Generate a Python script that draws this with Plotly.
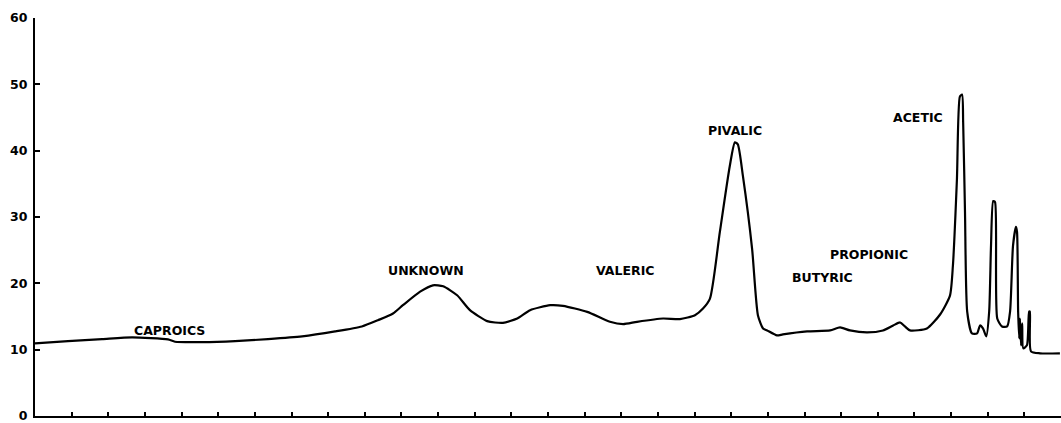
import plotly.graph_objects as go

# Retention position (chart-speed divisions) and detector response of the scan
retention = [
    0.00, 0.90, 1.83, 2.65, 3.63, 3.82, 4.56, 5.46, 6.36, 7.29, 8.19, 8.92,
    9.36, 9.77, 10.04, 10.51, 10.86, 11.14, 11.52, 11.87, 12.34, 12.77, 13.16,
    13.51, 14.06, 14.41, 15.07, 15.69, 16.05, 16.43, 17.14, 17.60, 18.01,
    18.23, 18.42, 18.69, 18.96, 19.10, 19.18, 19.32, 19.57, 19.73, 19.87,
    19.98, 20.25, 20.41, 21.07, 21.70, 21.97, 22.24, 22.71, 23.14, 23.42,
    23.61, 23.74, 23.88, 24.34, 24.70, 24.97, 25.05, 25.16, 25.24, 25.30,
    25.33, 25.38, 25.44, 25.57, 25.71, 25.79, 25.87, 25.96, 26.04, 26.09,
    26.15, 26.20, 26.26, 26.39, 26.53, 26.61, 26.69, 26.77, 26.80, 26.83,
    26.86, 26.88, 26.91, 26.94, 26.97, 27.07, 27.13, 27.15, 27.18, 27.43,
    27.97,
]
response = [
    10.95, 11.29, 11.59, 11.85, 11.55, 11.20, 11.14, 11.29, 11.59, 12.00,
    12.75, 13.50, 14.44, 15.45, 16.70, 18.75, 19.70, 19.55, 18.20, 15.95,
    14.30, 14.05, 14.70, 15.95, 16.70, 16.60, 15.70, 14.20, 13.85, 14.20,
    14.70, 14.60, 15.20, 16.20, 17.70, 27.75, 37.65, 41.25, 40.95, 36.15,
    25.20, 15.15, 13.20, 12.90, 12.15, 12.30, 12.75, 12.90, 13.35, 12.90,
    12.60, 12.90, 13.65, 14.10, 13.50, 12.90, 13.20, 15.30, 18.15, 22.65,
    35.70, 48.15, 48.45, 44.25, 30.75, 15.75, 12.45, 12.45, 13.65, 13.20,
    12.00, 15.75, 25.65, 32.40, 32.25, 14.70, 13.50, 13.50, 15.75, 25.65,
    28.50, 27.75, 15.75, 11.70, 14.70, 10.65, 13.95, 10.20, 10.65, 15.75,
    15.75, 9.75, 9.45, 9.45,
]

# Peak names and where they are written
peak_names = ["CAPROICS", "UNKNOWN", "VALERIC", "PIVALIC",
              "BUTYRIC", "PROPIONIC", "ACETIC"]
peak_label_x = [3.67, 10.67, 16.10, 19.10, 21.49, 22.75, 24.09]
peak_label_y = [12.83, 21.9, 21.9, 42.98, 20.85, 24.38, 45.0]

y_ticks = [0, 10, 20, 30, 40, 50, 60]
x_ticks = list(range(1, 28))

fig = go.Figure()
fig.add_trace(go.Scatter(
    x=retention, y=response, mode="lines",
    line=dict(color="black", width=2.2, shape="spline", smoothing=0.6),
    hoverinfo="skip", showlegend=False,
))

label_font = dict(family="DejaVu Sans", size=12.5, color="black", weight="bold")
for name, lx, ly in zip(peak_names, peak_label_x, peak_label_y):
    fig.add_annotation(x=lx, y=ly, text=name, showarrow=False,
                       xanchor="center", yanchor="middle", font=label_font)

fig.update_layout(
    width=1061, height=423,
    margin=dict(l=35, r=0, t=18, b=5),
    paper_bgcolor="white", plot_bgcolor="white",
    showlegend=False,
    xaxis=dict(
        range=[0, 28], showgrid=False, zeroline=False,
        showline=True, linecolor="black", linewidth=2,
        tickmode="array", tickvals=x_ticks, showticklabels=False,
        ticks="inside", ticklen=4, tickwidth=1.5, tickcolor="black",
    ),
    yaxis=dict(
        range=[0, 60], showgrid=False, zeroline=False,
        showline=True, linecolor="black", linewidth=2,
        tickmode="array", tickvals=y_ticks,
        ticktext=[str(v) for v in y_ticks],
        ticks="inside", ticklen=5, tickwidth=1.5, tickcolor="black",
        tickfont=dict(family="DejaVu Sans", size=12.5, color="black",
                      weight="bold"),
        ticklabelstandoff=3,
        ticklabeloverflow="allow",
    ),
)

fig.write_html("out.html")
